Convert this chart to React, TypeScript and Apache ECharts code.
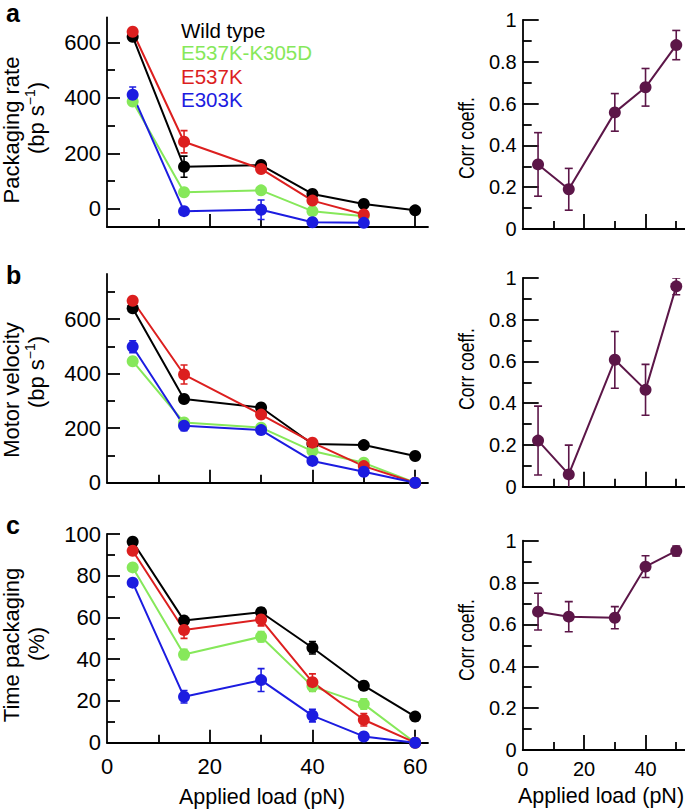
import React, { useEffect, useRef } from "react";
import * as echarts from "echarts";

// ---------- data ----------
const loads = [5, 15, 30, 40, 50, 60];
const corrLoads = [5, 15, 30, 40, 50];

const seriesNames = ["Wild type", "E537K-K305D", "E537K", "E303K"];
const seriesColors = ["#000000", "#86E85A", "#DC1F1F", "#1C1CE0"];
const corrColor = "#5C1648";

// panel a: packaging rate (bp/s)
const rateWT = [620, 152, 158, 54, 18, -5];
const rateWTErr = [10, 38, 12, 8, 8, 8];
const rateKD = [387, 60, 67, -8, -26];
const rateKDErr = [10, 8, 8, 8, 8];
const rateK = [638, 242, 144, 30, -20];
const rateKErr = [12, 40, 12, 8, 8];
const rate303 = [411, -8, -3, -48, -50];
const rate303Err = [28, 10, 35, 8, 8];

// panel b: motor velocity (bp/s)
const velWT = [640, 307, 276, 142, 138, 98];
const velWTErr = [10, 12, 10, 8, 8, 8];
const velKD = [446, 221, 202, 116, 73, 0];
const velKDErr = [8, 10, 8, 8, 8, 4];
const velK = [668, 397, 250, 147, 61, 0];
const velKErr = [12, 35, 12, 8, 8, 4];
const vel303 = [499, 209, 193, 80, 40, 0];
const vel303Err = [22, 18, 15, 10, 8, 4];

// panel c: time packaging (%)
const timeWT = [96.3, 58.5, 62.5, 45.5, 27.3, 12.5];
const timeWTErr = [1.5, 2, 2, 3, 2, 2];
const timeKD = [84, 42.3, 50.8, 27, 18.5, 0];
const timeKDErr = [1.5, 2.5, 2.5, 2.5, 2.5, 0.5];
const timeK = [92, 54, 59, 29, 11, 0];
const timeKErr = [1.5, 4, 3, 4, 3, 0.5];
const time303 = [76.7, 22, 30, 13, 3, 0];
const time303Err = [1.5, 3, 5.5, 3, 1.5, 0.5];

// correlation coefficients
const corrA = [0.309, 0.19, 0.558, 0.678, 0.88];
const corrAErr = [0.152, 0.1, 0.09, 0.09, 0.07];
const corrB = [0.221, 0.059, 0.608, 0.464, 0.96];
const corrBErr = [0.165, 0.14, 0.136, 0.122, 0.04];
const corrC = [0.661, 0.637, 0.632, 0.876, 0.951];
const corrCErr = [0.088, 0.072, 0.053, 0.052, 0.024];

// ticks
const leftXMajor = [20, 40, 60];
const leftXMinor = [10, 30, 50];
const leftXLabels = [0, 20, 40, 60];
const rightXMajor = [20, 40];
const rightXMinor = [10, 30, 50];
const rightXLabels = [0, 20, 40];
const bpMajor = [0, 200, 400, 600];
const bpMinorA = [100, 300, 500];
const bpMinorB = [100, 300, 500, 700];
const pctMajor = [0, 20, 40, 60, 80, 100];
const pctMinor = [10, 30, 50, 70, 90];
const corrMajor = [0, 0.2, 0.4, 0.6, 0.8, 1];
const corrMinor = [0.1, 0.3, 0.5, 0.7, 0.9];

const FONT = "'Liberation Sans', Arial, Helvetica, sans-serif";

export default function App() {
  const ref = useRef<HTMLDivElement>(null);
  useEffect(() => {
    if (!ref.current) return;
    const chart = echarts.init(ref.current, null, { renderer: "svg" });

    type P = {
      grid: any;
      xMin: number; xMax: number; xMajor: number[]; xMinor: number[]; xLabels: number[] | null;
      xLabelFont: number; xLabelMargin: number; xMajorLen: number; xMinorLen: number;
      yMin: number; yMax: number; yMajor: number[]; yMinor: number[];
      yLabelFont: number; yMajorLen: number; yMinorLen: number;
    };
    const L = { xMin: 0, xMax: 62.5, xMajor: leftXMajor, xMinor: leftXMinor, xLabelFont: 22, xLabelMargin: 13, xMajorLen: 13, xMinorLen: 8, yLabelFont: 22, yMajorLen: 13, yMinorLen: 8 };
    const Rt = { xMin: 0, xMax: 55, xMajor: rightXMajor, xMinor: rightXMinor, xLabelFont: 20, xLabelMargin: 9, xMajorLen: 15, xMinorLen: 8, yMin: 0, yMax: 1, yMajor: corrMajor, yMinor: corrMinor, yLabelFont: 20, yMajorLen: 16, yMinorLen: 9 };
    const panels: P[] = [
      { ...L, grid: { left: 107, top: 17.3, width: 321, height: 209.7 }, xLabels: null, yMin: -65, yMax: 690, yMajor: bpMajor, yMinor: bpMinorA },
      { ...Rt, grid: { left: 522.7, top: 20, width: 168.9, height: 209 }, xLabels: null },
      { ...L, grid: { left: 107, top: 274, width: 321, height: 208.7 }, xLabels: null, yMin: 0, yMax: 766, yMajor: bpMajor, yMinor: bpMinorB },
      { ...Rt, grid: { left: 522.7, top: 278, width: 168.9, height: 208.7 }, xLabels: null },
      { ...L, grid: { left: 107, top: 534, width: 321, height: 208.7 }, xLabels: leftXLabels, yMin: 0, yMax: 100, yMajor: pctMajor, yMinor: pctMinor },
      { ...Rt, grid: { left: 522.7, top: 540.7, width: 168.9, height: 209.3 }, xLabels: rightXLabels },
    ];

    const AX = { color: "#000", width: 1.8 };
    const grids: any[] = [];
    const xAxes: any[] = [];
    const yAxes: any[] = [];
    panels.forEach((p, gi) => {
      grids.push({ ...p.grid, outerBoundsMode: "none", containLabel: false });
      xAxes.push({
        type: "value", gridIndex: gi, position: "bottom", min: p.xMin, max: p.xMax,
        axisLine: { show: true, onZero: false, lineStyle: AX },
        axisTick: { show: true, inside: true, length: p.xMajorLen, customValues: p.xMajor, lineStyle: AX },
        axisLabel: p.xLabels
          ? { show: true, customValues: p.xLabels, fontSize: p.xLabelFont, color: "#000", fontFamily: FONT, margin: p.xLabelMargin }
          : { show: false },
        splitLine: { show: false },
      });
      xAxes.push({
        type: "value", gridIndex: gi, position: "bottom", min: p.xMin, max: p.xMax,
        axisLine: { show: false, onZero: false },
        axisTick: { show: true, inside: true, length: p.xMinorLen, customValues: p.xMinor, lineStyle: AX },
        axisLabel: { show: false },
        splitLine: { show: false },
      });
      yAxes.push({
        type: "value", gridIndex: gi, position: "left", min: p.yMin, max: p.yMax,
        axisLine: { show: true, onZero: false, lineStyle: AX },
        axisTick: { show: true, inside: true, length: p.yMajorLen, customValues: p.yMajor, lineStyle: AX },
        axisLabel: { show: true, customValues: p.yMajor, fontSize: p.yLabelFont, color: "#000", fontFamily: FONT, margin: 6 },
        splitLine: { show: false },
      });
      yAxes.push({
        type: "value", gridIndex: gi, position: "left", min: p.yMin, max: p.yMax,
        axisLine: { show: false, onZero: false },
        axisTick: { show: true, inside: true, length: p.yMinorLen, customValues: p.yMinor, lineStyle: AX },
        axisLabel: { show: false },
        splitLine: { show: false },
      });
    });

    const series: any[] = [];
    const addSeries = (gi: number, xs: number[], ys: number[], errs: number[], color: string, cap: number) => {
      const pts = ys.map((y, i) => [xs[i], y, errs[i]]);
      series.push({
        type: "custom", xAxisIndex: 2 * gi, yAxisIndex: 2 * gi, data: pts, z: 1, clip: true, silent: true,
        renderItem: (params: any, api: any) => {
          const x = api.value(0), y = api.value(1), e = api.value(2);
          const hi = api.coord([x, y + e]);
          const lo = api.coord([x, y - e]);
          const st = { stroke: color, lineWidth: 1.6 };
          return {
            type: "group",
            children: [
              { type: "line", shape: { x1: hi[0], y1: hi[1], x2: lo[0], y2: lo[1] }, style: st },
              { type: "line", shape: { x1: hi[0] - cap, y1: hi[1], x2: hi[0] + cap, y2: hi[1] }, style: st },
              { type: "line", shape: { x1: lo[0] - cap, y1: lo[1], x2: lo[0] + cap, y2: lo[1] }, style: st },
            ],
          };
        },
      });
      series.push({
        type: "line", xAxisIndex: 2 * gi, yAxisIndex: 2 * gi, z: 3, silent: true,
        data: ys.map((y, i) => [xs[i], y]),
        symbol: "circle", symbolSize: 12, showSymbol: true,
        lineStyle: { color, width: 2 }, itemStyle: { color },
        clip: false,
      });
    };

    const panelA = [[rateWT, rateWTErr], [rateKD, rateKDErr], [rateK, rateKErr], [rate303, rate303Err]];
    const panelB = [[velWT, velWTErr], [velKD, velKDErr], [velK, velKErr], [vel303, vel303Err]];
    const panelC = [[timeWT, timeWTErr], [timeKD, timeKDErr], [timeK, timeKErr], [time303, time303Err]];
    [panelA, panelB, panelC].forEach((pn, k) => {
      pn.forEach(([v, e], si) => addSeries(2 * k, loads, v, e, seriesColors[si], 3.5));
    });
    addSeries(1, corrLoads, corrA, corrAErr, corrColor, 4);
    addSeries(3, corrLoads, corrB, corrBErr, corrColor, 4);
    addSeries(5, corrLoads, corrC, corrCErr, corrColor, 4);

    const txt = (text: string, x: number, y: number, size: number, opts: any = {}) => ({
      type: "text", x, y, rotation: opts.rotation || 0, scaleX: opts.scaleX || 1, silent: true,
      style: {
        text, fontSize: size, fontFamily: FONT, fontWeight: opts.bold ? "bold" : "normal",
        fill: opts.color || "#000", align: opts.align || "center", verticalAlign: "middle",
        rich: { sup: { fontSize: 14, fontFamily: FONT, verticalAlign: "top", fill: "#000", lineHeight: 26 }, n: { fontSize: size, fontFamily: FONT, fill: "#000", lineHeight: 26 } },
      },
    });
    const R = Math.PI / 2;
    const graphics: any[] = [
      txt("a", 6, 13.4, 25, { bold: true, align: "left" }),
      txt("b", 6, 274.7, 25, { bold: true, align: "left" }),
      txt("c", 6, 525, 25, { bold: true, align: "left" }),
      // y axis names (left)
      txt("Packaging rate", 11, 130, 22, { rotation: R }),
      txt("{n|(bp s}{sup|−1}{n|)}", 36, 118, 22, { rotation: R }),
      txt("Motor velocity", 11, 390, 22, { rotation: R }),
      txt("{n|(bp s}{sup|−1}{n|)}", 36, 372, 22, { rotation: R }),
      txt("Time packaging", 11, 645, 22, { rotation: R }),
      txt("(%)", 36, 644, 22, { rotation: R }),
      // y axis names (right)
      txt("Corr coeff.", 466, 138, 22, { rotation: R, scaleX: 0.8 }),
      txt("Corr coeff.", 466, 369, 22, { rotation: R, scaleX: 0.8 }),
      txt("Corr coeff.", 466, 640, 22, { rotation: R, scaleX: 0.8 }),
      // x axis names
      txt("Applied load (pN)", 262, 797, 21.5),
      txt("Applied load (pN)", 601, 796, 21.5),
    ];
    const legendY = [30, 52.5, 76, 99.5];
    seriesNames.forEach((n, i) => graphics.push(txt(n, 181, legendY[i], 20.5, { align: "left", color: seriesColors[i] })));

    chart.setOption({
      animation: false,
      textStyle: { fontFamily: FONT, color: "#000" },
      grid: grids,
      xAxis: xAxes,
      yAxis: yAxes,
      series,
      graphic: graphics,
    });
    return () => chart.dispose();
  }, []);
  return (
    <div
      ref={ref}
      style={{ position: "fixed", left: 0, top: 0, width: 685, height: 811, background: "#fff" }}
    />
  );
}
